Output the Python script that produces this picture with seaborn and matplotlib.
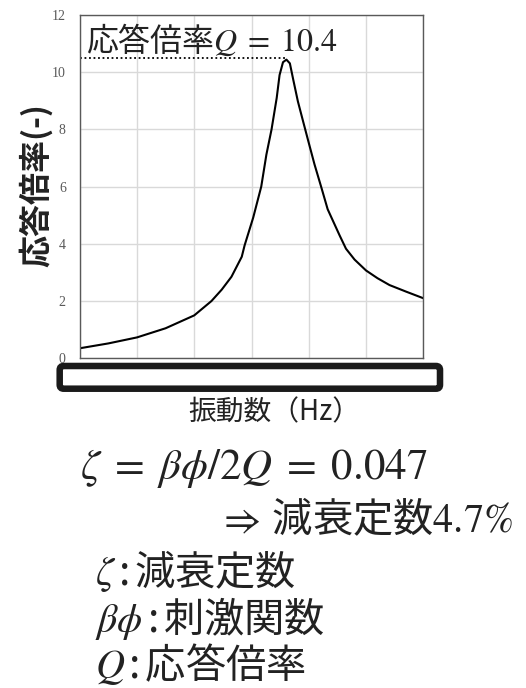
import matplotlib
matplotlib.use("Agg")
import matplotlib.pyplot as plt
import seaborn as sns
import pandas as pd
from matplotlib.patches import FancyBboxPatch

# Response curve (x in grid units, y = response ratio)
freq = [0.0, 0.5, 1.0, 1.5, 2.0, 2.3, 2.48, 2.65, 2.83, 2.88, 3.03, 3.17, 3.26,
        3.35, 3.44, 3.49, 3.55, 3.61, 3.67, 3.73, 3.81, 3.90, 4.00, 4.10, 4.22,
        4.33, 4.54, 4.65, 4.80, 5.00, 5.20, 5.41, 5.70, 6.00]
resp = [0.35, 0.52, 0.73, 1.05, 1.50, 2.00, 2.40, 2.85, 3.55, 3.95, 4.92, 6.0, 7.12,
        8.0, 9.1, 9.9, 10.35, 10.44, 10.31, 9.73, 8.98, 8.29, 7.53, 6.78, 5.97,
        5.21, 4.29, 3.83, 3.45, 3.07, 2.80, 2.56, 2.33, 2.10]

q_level = 10.51     # dotted guide level
q_peak_x = 3.58     # dotted guide ends at the peak
y_ticks = [0, 2, 4, 6, 8, 10, 12]
x_grid = [0, 1, 2, 3, 4, 5, 6]

q_label = "応答倍率$Q\\;=\\;10.4$"
y_label = "応答倍率(-)"
x_label = "振動数（Hz）"
notes = [
    "$\\zeta\\;=\\;\\beta\\phi/2Q\\;=\\;0.047$",
    "$\\Rightarrow\\,$減衰定数$4.7\\%$",
    "$\\zeta\\,$:$\\,$減衰定数",
    "$\\beta\\phi\\,$:$\\,$刺激関数",
    "$Q\\,$:$\\,$応答倍率",
]
note_size = [31, 29, 29, 29, 29]

df = pd.DataFrame({"freq": freq, "resp": resp})

sns.set_theme(style="whitegrid")
plt.rcParams["font.family"] = ["Noto Sans CJK JP", "DejaVu Sans"]
plt.rcParams["mathtext.fontset"] = "stix"
plt.rcParams["axes.unicode_minus"] = False

W, H = 526, 688
fig = plt.figure(figsize=(W / 100, H / 100), dpi=100)
ax = fig.add_axes([79.7 / W, 1 - 358.3 / H, (423.3 - 79.7) / W, (358.3 - 15) / H])

sns.lineplot(data=df, x="freq", y="resp", ax=ax, color="black", linewidth=1.5)
ax.plot([0, q_peak_x], [q_level, q_level], ls=(0, (1, 1.5)), color="black", lw=1.3)

ax.set_xlim(0, 6)
ax.set_ylim(0, 12)
ax.set_xticks(x_grid)
ax.set_yticks(y_ticks)
ax.tick_params(axis="x", labelbottom=False, length=0)
ax.tick_params(axis="y", length=0, pad=10, labelcolor="#595959", labelsize=10)
for lab in ax.get_yticklabels():
    lab.set_fontfamily("Liberation Serif")
ax.grid(True, color="#d9d9d9", linewidth=1)
for sp in ax.spines.values():
    sp.set_color("#595959")
    sp.set_linewidth(1.0)
ax.set_xlabel("")
ax.set_ylabel("")

ax.text((86 - 79.7) / 343.6, 1 - (40 - 15) / 343.3, q_label,
        transform=ax.transAxes, fontsize=23, va="center", ha="left", color="#222222")

fig.text(36 / W, 1 - 185 / H, y_label, rotation=90, fontsize=23, fontweight="bold",
         ha="center", va="center", color="#222222")

# black rounded frame hiding the x tick labels
frame = FancyBboxPatch((0.597, (H - 388.7) / 100), 4.40 - 0.597, 0.227,
                       boxstyle="round,pad=0,rounding_size=0.04",
                       transform=fig.dpi_scale_trans, facecolor="white",
                       edgecolor="#1a1a1a", linewidth=4.7, zorder=5)
fig.patches.append(frame)

fig.text(188 / W, 1 - 412 / H, x_label, fontsize=20, ha="left", va="center",
         color="#222222")

note_pos = [(80, 468), (218, 520), (95, 571), (95, 619), (95, 664)]
for (px, py), s, fs in zip(note_pos, notes, note_size):
    fig.text(px / W, 1 - py / H, s, fontsize=fs, ha="left", va="center", color="#222222")

fig.savefig("out.png", dpi=100)
